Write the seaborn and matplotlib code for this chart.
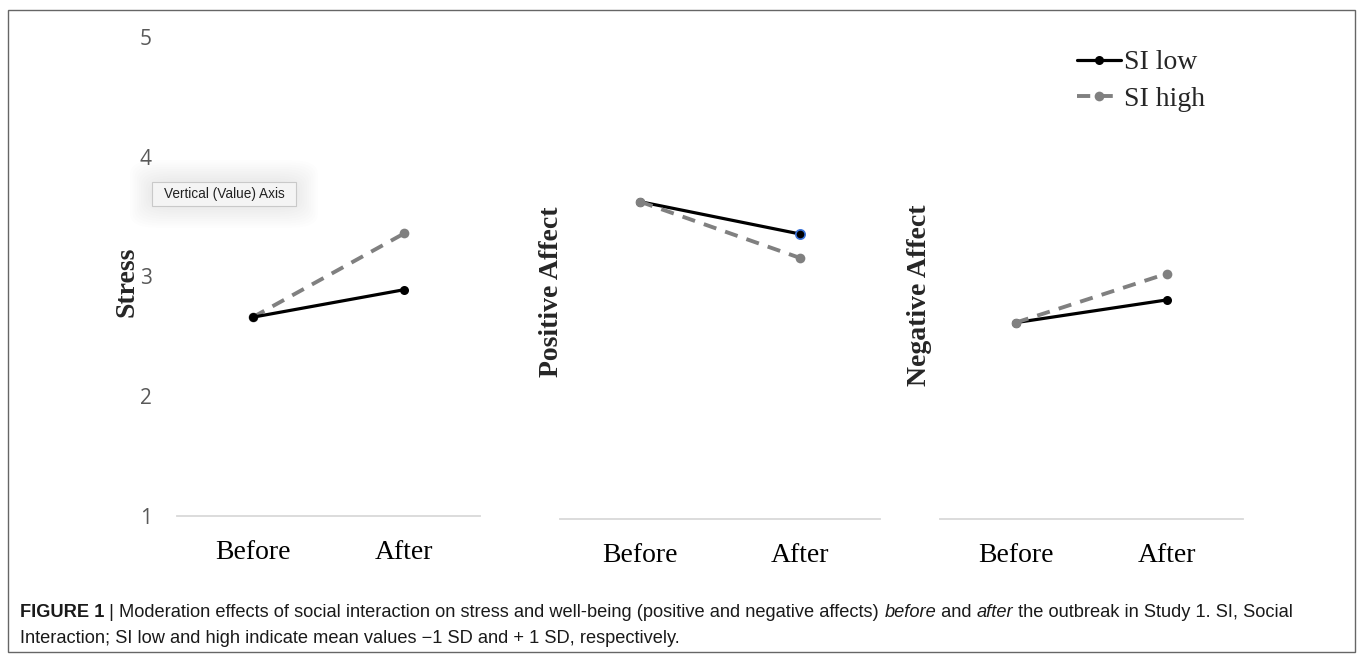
import matplotlib
matplotlib.use("Agg")
import matplotlib.pyplot as plt
import seaborn as sns
from matplotlib.patches import FancyBboxPatch, Rectangle

# data
times = ["Before", "After"]
stress_low = [2.66, 2.89]
stress_high = [2.66, 3.36]
pos_low = [3.65, 3.38]
pos_high = [3.65, 3.18]
neg_low = [2.64, 2.83]
neg_high = [2.64, 3.05]
y_labels = ["Stress", "Positive Affect", "Negative Affect"]
y_ticks = [1, 2, 3, 4, 5]
series_names = ["SI low", "SI high"]

W, H = 1357, 654
sns.set_theme(style="white")
plt.rcParams["font.family"] = ["Liberation Serif", "DejaVu Serif"]

fig = plt.figure(figsize=(W / 100, H / 100), dpi=100)


def fpos(px, py):
    return px / W, 1 - py / H


# axes boxes in pixels: left, baseline, width
boxes = [(177, 516, 303), (560, 519, 320), (940, 519, 303)]
panels = [(stress_low, stress_high), (pos_low, pos_high), (neg_low, neg_high)]
label_pos = [(127, 282), (552, 292), (920, 295)]

black = "#000000"
grey = "#808080"
axes = []
for i, ((left, base, width), (low, high)) in enumerate(zip(boxes, panels)):
    ax = fig.add_axes([left / W, 1 - base / H, width / W, 479 / H])
    axes.append(ax)
    order = [("SI high", high), ("SI low", low)] if i == 0 else [("SI low", low), ("SI high", high)]
    for name, vals in order:
        if name == "SI low":
            sns.lineplot(x=times, y=vals, ax=ax, sort=False, color=black, lw=2.3,
                         marker="o", markersize=6.5, markeredgecolor=black,
                         markeredgewidth=0, label=name)
        else:
            sns.lineplot(x=times, y=vals, ax=ax, sort=False, color=grey, lw=2.8,
                         linestyle=(0, (3.4, 2.4)), marker="o", markersize=7,
                         markeredgecolor=grey, markeredgewidth=0, label=name)
    if ax.get_legend() is not None:
        ax.get_legend().remove()
    ax.set_xlim(-0.5, 1.5)
    ax.set_ylim(1, 5)
    ax.set_xlabel("")
    ax.set_ylabel("")
    for s in ["top", "right", "left"]:
        ax.spines[s].set_visible(False)
    ax.spines["bottom"].set_color("#d9d9d9")
    ax.spines["bottom"].set_linewidth(1.3)
    ax.tick_params(axis="x", length=0, pad=17, labelsize=20, labelcolor="black")
    if i == 0:
        ax.set_yticks(y_ticks)
        ax.tick_params(axis="y", length=0, pad=18, labelsize=15, labelcolor="#595959")
        for t in ax.get_yticklabels():
            t.set_fontfamily(["Open Sans", "DejaVu Sans"])
    else:
        ax.set_yticks([])
    ax.patch.set_alpha(0)
    fx, fy = fpos(*label_pos[i])
    fig.text(fx, fy, y_labels[i], rotation=90, ha="center", va="center",
             fontsize=20, fontweight="bold")

# selection ring on the Positive Affect "after" point (screenshot artefact)
sns.scatterplot(x=[times[1]], y=[pos_low[1]], ax=axes[1], s=45, color=black,
                edgecolor="#3b73d9", linewidth=1.2, zorder=5, legend=False)

# legend
handles, labels = axes[0].get_legend_handles_labels()
hd = dict(zip(labels, handles))
fig.legend([hd[n] for n in series_names], series_names, loc="upper left",
           bbox_to_anchor=fpos(1077, 50), frameon=False, fontsize=20,
           handlelength=1.6, handletextpad=0.1, labelspacing=0.4,
           borderpad=0, borderaxespad=0)

# tooltip left over from the screenshot
for k in range(10):
    pad = 2 + k * 2.2
    glow = FancyBboxPatch(((152 - pad) / W, 1 - (206 + pad) / H), (144 + 2 * pad) / W,
                          (24 + 2 * pad) / H, boxstyle="round,pad=0,rounding_size=0.02",
                          transform=fig.transFigure, facecolor="#000000",
                          edgecolor="none", alpha=0.006, zorder=1)
    fig.add_artist(glow)
tip = Rectangle((152 / W, 1 - 206 / H), 144 / W, 24 / H, transform=fig.transFigure,
                facecolor="#f4f4f4", edgecolor="#c9c9c9", lw=0.8, zorder=2)
fig.add_artist(tip)
fig.text(224 / W, 1 - 194 / H, "Vertical (Value) Axis", ha="center", va="center",
         fontsize=9.8, color="#222222", family=["Liberation Sans", "DejaVu Sans"], zorder=3)

# outer frame
fig.add_artist(Rectangle((8 / W, 1 - 652 / H), 1347 / W, 642 / H, transform=fig.transFigure,
                         facecolor="none", edgecolor="#666666", lw=1))

# caption with mixed styles
cap_font = ["Liberation Sans Narrow", "Liberation Sans", "DejaVu Sans"]
cap_size = 13.15
line1 = [("FIGURE 1", "bold", "normal"), (" | ", "normal", "normal"),
         ("Moderation effects of social interaction on stress and well-being (positive and negative affects) ", "normal", "normal"),
         ("before", "normal", "italic"), (" and ", "normal", "normal"),
         ("after", "normal", "italic"),
         (" the outbreak in Study 1. SI, Social", "normal", "normal")]
line2 = [("Interaction; SI low and high indicate mean values \u22121 SD and + 1 SD, respectively.", "normal", "normal")]

renderer = fig.canvas.get_renderer()
for py, pieces in [(617, line1), (643, line2)]:
    x = 20
    for s, wt, st in pieces:
        t = fig.text(x / W, 1 - py / H, s, ha="left", va="baseline", fontsize=cap_size,
                     fontweight=wt, fontstyle=st, family=cap_font, color="#1a1a1a")
        bb = t.get_window_extent(renderer)
        x = bb.x1

fig.savefig("out.png", dpi=100)
